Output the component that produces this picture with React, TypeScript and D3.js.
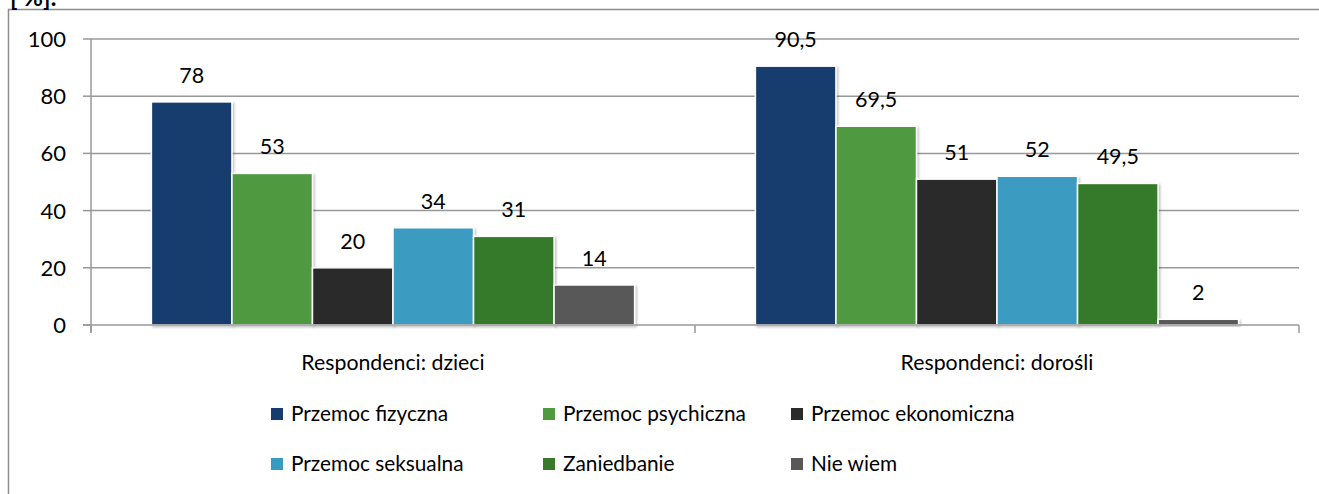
import React from "react";
import * as d3 from "d3";

const categories = ["Respondenci: dzieci", "Respondenci: dorośli"];
const seriesNames = [
  "Przemoc fizyczna",
  "Przemoc psychiczna",
  "Przemoc ekonomiczna",
  "Przemoc seksualna",
  "Zaniedbanie",
  "Nie wiem",
];
const valuesDzieci = [78, 53, 20, 34, 31, 14];
const valuesDorosli = [90.5, 69.5, 51, 52, 49.5, 2];
const yTicks = [0, 20, 40, 60, 80, 100];
const colors = ["#163c6e", "#4f9a3f", "#2b2b2b", "#3a9bc1", "#367a2a", "#595959"];

const W = 1319;
const H = 494;
const FONT = "Lato, 'Open Sans', sans-serif";

export default function App() {
  const left = 91;
  const right = 1299;
  const top = 39;
  const bottom = 325;
  const y = d3.scaleLinear().domain([0, 100]).range([bottom, top]);
  const x0 = d3.scaleBand().domain(categories).range([left, right]).paddingInner(0).paddingOuter(0);
  const x1 = d3
    .scaleBand()
    .domain(seriesNames)
    .range([0, x0.bandwidth()])
    .paddingOuter(0.75)
    .paddingInner(0);
  const data = [valuesDzieci, valuesDorosli];
  const fmt = (v: number) => String(v).replace(".", ",");

  const legendCols = [271, 543, 791];
  const legendRows = [414, 464];

  return (
    <svg
      width={W}
      height={H}
      style={{ position: "absolute", left: 0, top: 0, background: "#fff" }}
      fontFamily={FONT}
    >
      <defs>
        <filter id="sh" x="-10%" y="-10%" width="130%" height="130%">
          <feDropShadow dx="1.5" dy="1.5" stdDeviation="1" floodColor="#000" floodOpacity="0.25" />
        </filter>
      </defs>
      {/* frame */}
      <rect x={8.5} y={9.5} width={1340} height={520} fill="none" stroke="#8c8c8c" strokeWidth={1.5} />
      <text x={10} y={6} fontSize={24} fontWeight="bold" fill="#000">
        [ %]:
      </text>
      {/* gridlines */}
      {yTicks.map((t) => (
        <g key={t}>
          {t > 0 && (
            <line x1={left} x2={right} y1={y(t)} y2={y(t)} stroke="#999" strokeWidth={1.5} />
          )}
          <line x1={83} x2={left} y1={y(t)} y2={y(t)} stroke="#999" strokeWidth={1.5} />
          <text x={66} y={y(t) + 8} fontSize={22} textAnchor="end" fill="#000">
            {t}
          </text>
        </g>
      ))}
      {/* bars */}
      {categories.map((c, ci) => (
        <g key={c} transform={`translate(${x0(c)},0)`}>
          {seriesNames.map((s, si) => {
            const v = data[ci][si];
            const bx = x1(s)!;
            const bw = x1.bandwidth();
            return (
              <g key={s}>
                <rect
                  x={bx}
                  y={y(v)}
                  width={bw}
                  height={bottom - y(v)}
                  fill={colors[si]}
                  stroke="#fff"
                  strokeWidth={1.5}
                  filter="url(#sh)"
                />
                <text x={bx + bw / 2} y={y(v) - 19} fontSize={21.5} textAnchor="middle" fill="#000">
                  {fmt(v)}
                </text>
              </g>
            );
          })}
          <text x={x0.bandwidth() / 2} y={370} fontSize={21.3} textAnchor="middle" fill="#000">
            {c}
          </text>
        </g>
      ))}
      {/* axes */}
      <line x1={left} x2={left} y1={top} y2={bottom + 8} stroke="#999" strokeWidth={1.5} />
      <line x1={83} x2={right} y1={bottom} y2={bottom} stroke="#999" strokeWidth={1.5} />
      {[...categories.map((c) => x0(c)!), right].map((xx, i) => (
        <line key={i} x1={xx} x2={xx} y1={bottom} y2={bottom + 8} stroke="#999" strokeWidth={1.5} />
      ))}
      {/* legend */}
      {seriesNames.map((s, i) => {
        const lx = legendCols[i % 3];
        const ly = legendRows[Math.floor(i / 3)];
        return (
          <g key={s}>
            <rect x={lx} y={ly - 6} width={12} height={12} fill={colors[i]} />
            <text x={lx + 20} y={ly + 7} fontSize={20.8} fill="#000">
              {s}
            </text>
          </g>
        );
      })}
    </svg>
  );
}
